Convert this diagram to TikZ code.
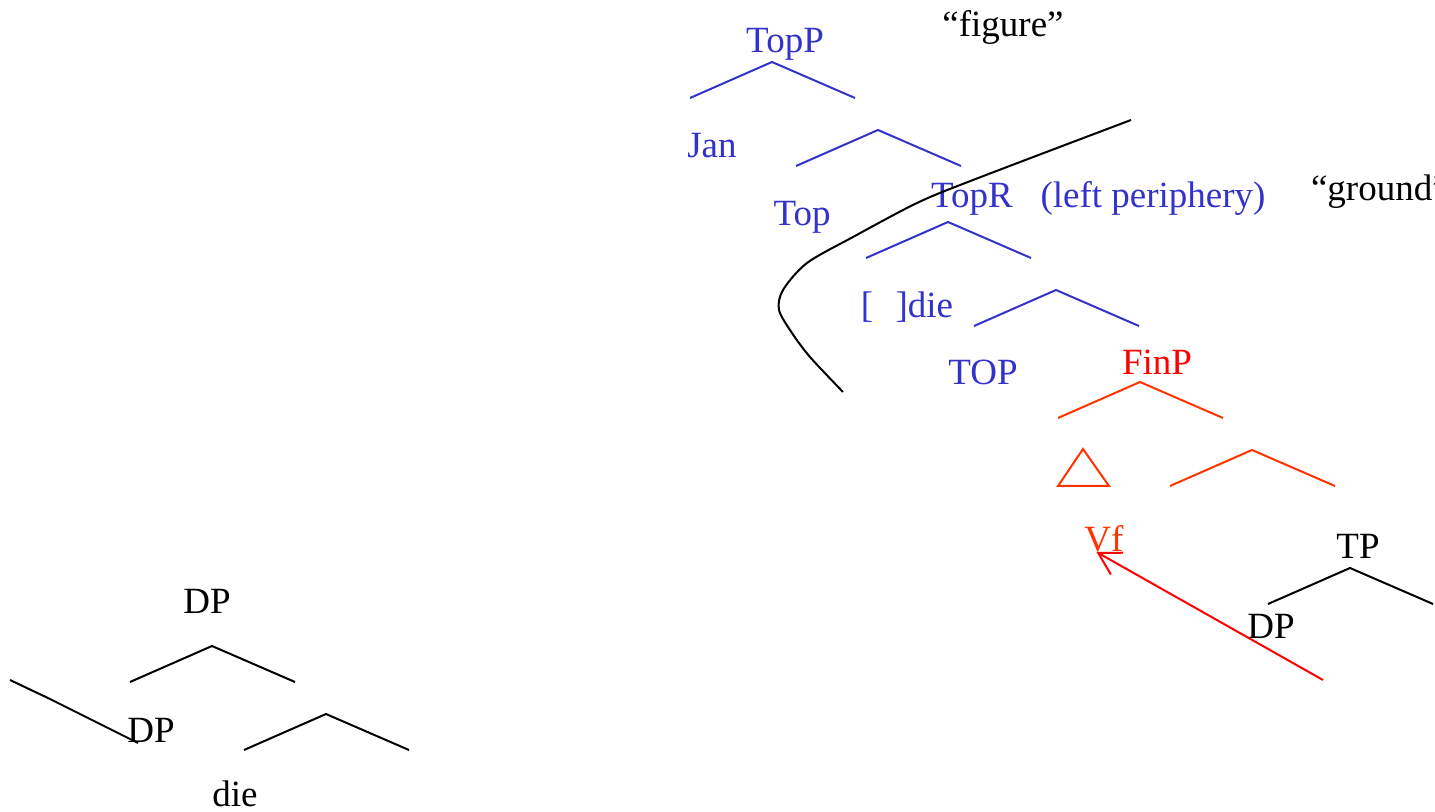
\documentclass[tikz,border=0pt]{standalone}
\usepackage{fontspec}
\setmainfont{Liberation Serif}
\usetikzlibrary{arrows.meta,calc}

\definecolor{topblue}{RGB}{51,51,204}
\definecolor{finred}{RGB}{255,51,0}
\newcommand{\treewedge}[3][black]{\draw[#1] (#2,#3) ++(-82,36) -- (#2,#3) -- ++(83,36);}
\tikzset{every path/.style={line width=1pt},
  lab/.style={anchor=base, inner sep=0pt, font=\fontsize{18.5pt}{21pt}\selectfont}}

\begin{document}
\begin{tikzpicture}[x=0.5pt,y=-0.5pt]
\useasboundingbox (0,0) rectangle (1435,812);

% left periphery, blue
\node[lab,topblue] (topp) at (785,53) {TopP};
\node[lab,topblue] (jan) at (712,158) {Jan};
\node[lab,topblue] (top) at (802,226) {Top};
\node[lab,topblue] (topr) at (972,208) {TopR};
\node[lab,topblue] (periph) at (1153,208) {(left periphery)};
\node[lab,topblue] (die) at (907,318) {[\hspace{0.6em}]die};
\node[lab,topblue] (topbig) at (983,385) {TOP};
\treewedge[topblue]{772}{62}
\treewedge[topblue]{878}{130}
\treewedge[topblue]{948}{222}
\treewedge[topblue]{1056}{290}

\node[lab] (figure) at (1003,37) {“figure”};
\node[lab,anchor=base west] (ground) at (1310,201) {“ground”};

% FinP
\node[lab,red] (finp) at (1157,375) {FinP};
\treewedge[finred]{1140}{382}
\treewedge[finred]{1252}{450}
\draw[finred] (1058,486) -- (1083,449) -- (1109,486) -- cycle;
\node[lab,finred] (vf) at (1104,552) {Vf};

% TP
\node[lab] (tp) at (1358,558) {TP};
\treewedge{1350}{568}
\node[lab] (dpr) at (1271,638) {DP};
\coordinate (vfstart) at (1323,680);
\draw[red,-{Straight Barb[length=10.8pt,width=12.5pt]}] (vfstart) -- ($(vf.base west)+(13,0)$);

% boundary
\draw plot[smooth, tension=.5] coordinates {(1131,120) (973,180) (917,203) (853,237) (807,263) (783,290) (779,310) (792,333) (810,357) (843,392)};

% DP die
\node[lab] (dptop) at (207,613) {DP};
\treewedge{212}{646}
\node[lab] (dplow) at (151,742) {DP};
\treewedge{326}{714}
\node[lab] (dpdie) at (235,806) {die};
\draw (10,680) -- (48,698) -- (138,743);
\end{tikzpicture}
\end{document}
